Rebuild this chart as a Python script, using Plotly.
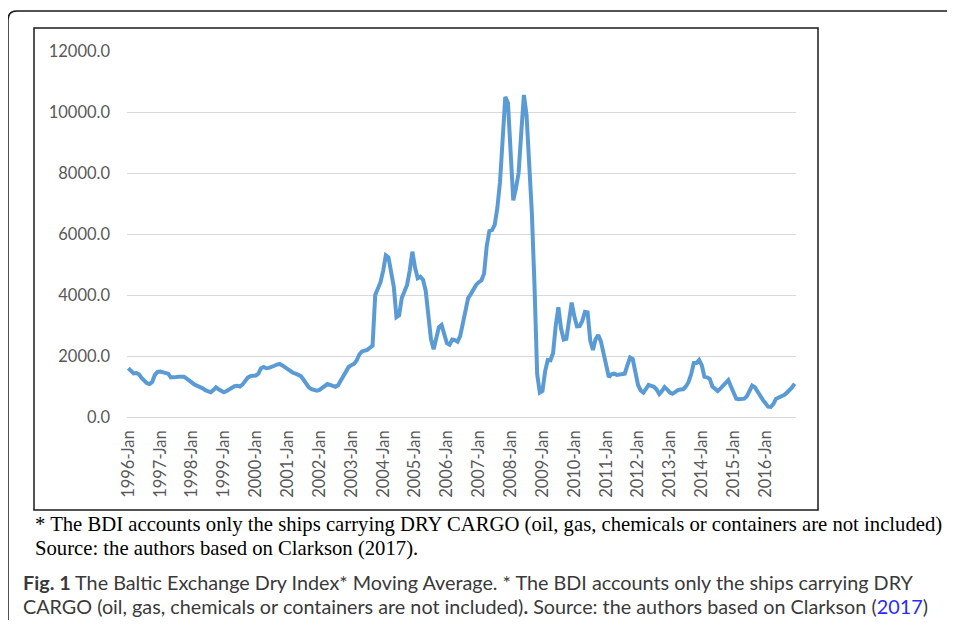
import plotly.graph_objects as go

# ---------------- data ----------------
years = list(range(1996, 2017))
month_names = ["Jan", "Feb", "Mar", "Apr", "May", "Jun",
               "Jul", "Aug", "Sep", "Oct", "Nov", "Dec"]
categories = [f"{y}-{m}" for y in years for m in month_names]
tick_labels = [f"{y}-Jan" for y in years]

bdi_1996 = [1600, 1500, 1430, 1440, 1400, 1280, 1180, 1110, 1080, 1150, 1380, 1480]
bdi_1997 = [1490, 1470, 1460, 1420, 1300, 1290, 1310, 1320, 1320, 1320, 1260, 1180]
bdi_1998 = [1100, 1060, 1020, 990, 940, 880, 850, 810, 880, 970, 910, 850]
bdi_1999 = [810, 850, 900, 940, 1010, 1020, 995, 1060, 1160, 1290, 1340, 1350]
bdi_2000 = [1360, 1420, 1600, 1640, 1600, 1610, 1630, 1680, 1720, 1740, 1690, 1630]
bdi_2001 = [1560, 1490, 1450, 1420, 1390, 1340, 1220, 1080, 970, 910, 880, 860]
bdi_2002 = [890, 950, 1030, 1080, 1050, 1010, 990, 1040, 1200, 1320, 1460, 1640]
bdi_2003 = [1700, 1740, 1850, 2050, 2150, 2170, 2200, 2270, 2340, 4000, 4250, 4420]
bdi_2004 = [4800, 5300, 5230, 4800, 4270, 3270, 3330, 3900, 4150, 4330, 4800, 5420]
bdi_2005 = [4900, 4550, 4600, 4500, 4150, 3200, 2550, 2220, 2600, 2950, 3020, 2700]
bdi_2006 = [2420, 2370, 2540, 2520, 2470, 2650, 3050, 3600, 3900, 4030, 4200, 4330]
bdi_2007 = [4420, 4480, 4700, 5600, 6100, 6130, 6300, 6850, 7700, 9300, 10500, 10300]
bdi_2008 = [8700, 7100, 7500, 8000, 9300, 10560, 9900, 8300, 6700, 4300, 1400, 800]
bdi_2009 = [850, 1500, 1870, 1860, 2100, 3000, 3600, 2900, 2540, 2560, 3200, 3750]
bdi_2010 = [3300, 2970, 2980, 3150, 3450, 3430, 2500, 2200, 2550, 2690, 2480, 2050]
bdi_2011 = [1650, 1310, 1400, 1420, 1380, 1400, 1400, 1420, 1700, 1950, 1900, 1480]
bdi_2012 = [1050, 870, 800, 920, 1050, 1020, 990, 900, 750, 850, 980, 900]
bdi_2013 = [800, 760, 830, 880, 900, 910, 1000, 1140, 1400, 1770, 1770, 1870]
bdi_2014 = [1700, 1320, 1300, 1250, 1000, 920, 850, 930, 1020, 1120, 1210, 1000]
bdi_2015 = [780, 600, 580, 585, 600, 680, 850, 1030, 980, 830, 700, 560]
bdi_2016 = [450, 340, 330, 430, 600, 640, 660, 720, 790, 870, 970, 1090]

bdi_values = (bdi_1996 + bdi_1997 + bdi_1998 + bdi_1999 + bdi_2000 + bdi_2001 +
              bdi_2002 + bdi_2003 + bdi_2004 + bdi_2005 + bdi_2006 + bdi_2007 +
              bdi_2008 + bdi_2009 + bdi_2010 + bdi_2011 + bdi_2012 + bdi_2013 +
              bdi_2014 + bdi_2015 + bdi_2016)

y_ticks = [0, 2000, 4000, 6000, 8000, 10000, 12000]

# ---------------- geometry ----------------
# The page body keeps its default 8px margin, so the figure is sized to fill
# the 955x628 window exactly; page pixel positions are mapped to paper coords.
PAGE_W, PAGE_H, BODY_M = 955, 628, 8
W, H = PAGE_W - 2 * BODY_M, PAGE_H - 2 * BODY_M
def px(x):
    return (x - BODY_M) / W
def py(y):
    return 1 - (y - BODY_M) / H

fig = go.Figure()
fig.add_trace(go.Scatter(
    x=categories, y=bdi_values, mode="lines",
    line=dict(color="#5B9BD5", width=4),
    hoverinfo="x+y", showlegend=False,
))

tick_font = dict(family="Lato, Carlito, Calibri, sans-serif", size=16.5, color="#595959")

fig.update_layout(
    width=W, height=H,
    margin=dict(l=0, r=0, t=0, b=0, autoexpand=False),
    paper_bgcolor="white", plot_bgcolor="white",
    xaxis=dict(
        domain=[px(127), px(796)],
        type="category", automargin=False,
        range=[-0.5, len(categories) - 0.5],
        tickmode="array", tickvals=tick_labels, ticktext=tick_labels,
        tickangle=-90, tickfont=tick_font,
        showgrid=False, showline=False, zeroline=False, ticks="",
        ticklabelstandoff=9,
    ),
    yaxis=dict(
        domain=[py(417), py(51)], automargin=False,
        range=[0, 12000],
        tickmode="array", tickvals=y_ticks, tickformat=".1f",
        tickfont=tick_font,
        showgrid=True, gridcolor="#D9D9D9", gridwidth=1,
        zeroline=True, zerolinecolor="#D9D9D9", zerolinewidth=1,
        showline=False, ticks="",
        ticklabelstandoff=16,
    ),
)

# outer figure frame with rounded top-left corner (runs off the right/bottom)
r = 9
path = (f"M {px(8)},{py(PAGE_H - BODY_M)} L {px(8)},{py(11 + r)} "
        f"Q {px(8)},{py(11)} {px(8 + r)},{py(11)} L {px(PAGE_W - BODY_M)},{py(11)}")
fig.add_shape(type="path", path=path, xref="paper", yref="paper",
              line=dict(color="#1a1a1a", width=1.5))

# inner chart box
fig.add_shape(type="rect", xref="paper", yref="paper",
              x0=px(34), x1=px(818), y0=py(510), y1=py(28),
              line=dict(color="#1a1a1a", width=1.5), layer="below")

serif = dict(family="Liberation Serif, Times New Roman, serif", size=20.7, color="#000000")
fig.add_annotation(x=px(33), y=py(524), xref="paper", yref="paper",
                   xanchor="left", yanchor="middle", showarrow=False,
                   text="* The BDI accounts only the ships carrying DRY CARGO (oil, gas, chemicals or containers are not included)",
                   font=serif)
fig.add_annotation(x=px(33), y=py(548), xref="paper", yref="paper",
                   xanchor="left", yanchor="middle", showarrow=False,
                   text="Source: the authors based on Clarkson (2017).",
                   font=serif)

cap = dict(family="Lato, Open Sans, sans-serif", size=19.8, color="#3a3a3a")
fig.add_annotation(x=px(21), y=py(582), xref="paper", yref="paper",
                   xanchor="left", yanchor="middle", showarrow=False,
                   text="<b>Fig. 1</b> The Baltic Exchange Dry Index* Moving Average. * The BDI accounts only the ships carrying DRY",
                   font=cap)
fig.add_annotation(x=px(21), y=py(606), xref="paper", yref="paper",
                   xanchor="left", yanchor="middle", showarrow=False,
                   text="CARGO (oil, gas, chemicals or containers are not included)<b>.</b> Source: the authors based on Clarkson (<span style='color:#2b2bff'>2017</span>)",
                   font=cap)

fig.write_html("out.html", config={"responsive": False, "displayModeBar": False})
